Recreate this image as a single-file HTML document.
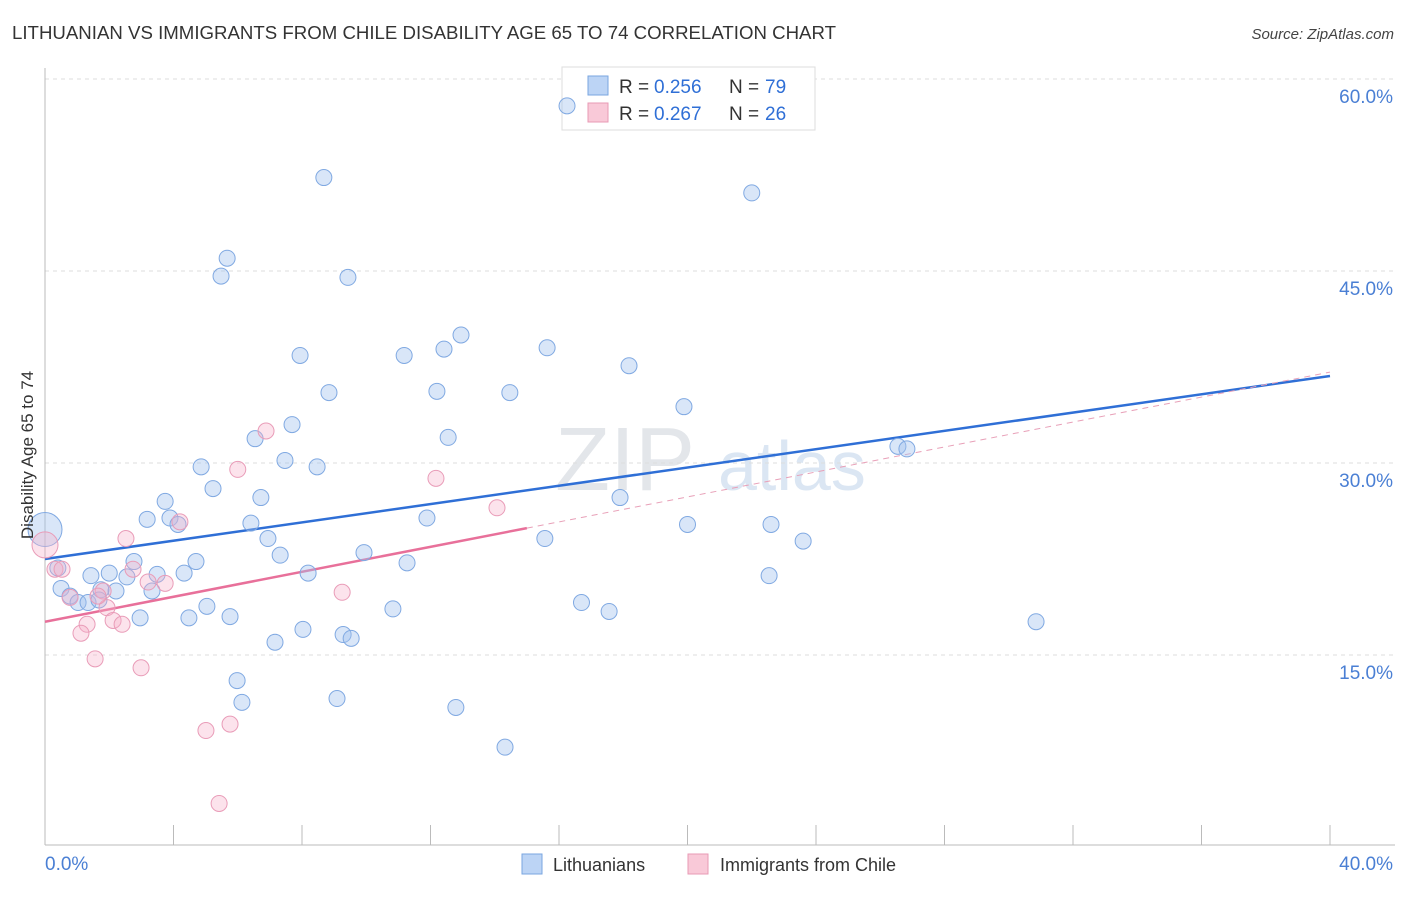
<!DOCTYPE html>
<html><head><meta charset="utf-8"><style>
body{margin:0;background:#fff;font-family:"Liberation Sans",sans-serif;}
svg text{font-family:"Liberation Sans",sans-serif;}
</style></head><body>
<svg id="chart" width="1406" height="892" xmlns="http://www.w3.org/2000/svg">
<text x="12" y="39" font-size="18" fill="#333" textLength="824" lengthAdjust="spacingAndGlyphs">LITHUANIAN VS IMMIGRANTS FROM CHILE DISABILITY AGE 65 TO 74 CORRELATION CHART</text>
<text x="1394" y="39" font-size="15" fill="#444" text-anchor="end" font-style="italic">Source: ZipAtlas.com</text>
<text x="555" y="490" font-size="90" fill="#e3e6ea" font-family="Liberation Serif">ZIP</text>
<text x="718" y="490" font-size="70" fill="#dbe6f3">atlas</text>
<g id="grid"></g>
<g id="axes"></g>
<g>
<rect x="562" y="67" width="253" height="63" fill="#fff" stroke="#ddd"/>
<rect x="588" y="76" width="20" height="19" fill="#bcd4f5" stroke="#7aa6e0"/>
<rect x="588" y="103" width="20" height="19" fill="#f9c9d8" stroke="#e89ab5"/>
<text x="619" y="93" font-size="19" fill="#333">R =</text>
<text x="654" y="93" font-size="19" fill="#2f6fd6">0.256</text>
<text x="729" y="93" font-size="19" fill="#333">N =</text>
<text x="765" y="93" font-size="19" fill="#2f6fd6">79</text>
<text x="619" y="120" font-size="19" fill="#333">R =</text>
<text x="654" y="120" font-size="19" fill="#2f6fd6">0.267</text>
<text x="729" y="120" font-size="19" fill="#333">N =</text>
<text x="765" y="120" font-size="19" fill="#2f6fd6">26</text>
</g>
<g id="lines"></g>
<g id="pts"></g>
<text transform="translate(33,455) rotate(-90)" font-size="17" fill="#333" text-anchor="middle">Disability Age 65 to 74</text>
<g>
<rect x="522" y="854" width="20" height="20" fill="#bcd4f5" stroke="#7aa6e0"/>
<text x="553" y="871" font-size="18" fill="#333">Lithuanians</text>
<rect x="688" y="854" width="20" height="20" fill="#f9c9d8" stroke="#e89ab5"/>
<text x="720" y="871" font-size="18" fill="#333">Immigrants from Chile</text>
</g>
</svg>
<script>
const yTicks=[15,30,45,60];
const yTickLabels=["15.0%","30.0%","45.0%","60.0%"];
const xTickCount=10;
const blueX=[16.25,8.68,22.0,5.67,5.48,9.43,12.95,15.63,12.42,7.94,11.18,18.18,12.2,8.84,14.47,19.89,7.69,6.54,12.55,26.55,26.83,7.47,4.86,8.47,5.23,17.9,6.72,3.74,3.18,3.89,11.89,6.41,4.14,20.0,22.6,6.94,15.56,23.6,7.32,9.93,2.77,4.70,11.27,0.4,1.43,2.0,2.55,3.49,4.33,8.19,22.54,0.5,2.21,1.74,3.33,0.78,1.03,1.34,1.68,16.7,5.04,10.83,17.56,2.96,4.48,5.76,30.85,8.03,9.28,9.53,7.16,5.98,6.13,9.09,12.79,14.32,0];
const blueY=[57.9,52.3,51.1,46.0,44.6,44.5,40.0,39.0,38.9,38.4,38.4,37.6,35.6,35.5,35.5,34.4,33.0,31.9,32.0,31.3,31.1,30.2,29.7,29.7,28.0,27.3,27.3,27.0,25.6,25.7,25.7,25.3,25.2,25.2,25.2,24.1,24.1,23.9,22.8,23.0,22.3,22.3,22.2,21.8,21.2,21.4,21.1,21.3,21.4,21.4,21.2,20.2,20.0,20.1,20.0,19.6,19.1,19.1,19.3,19.1,18.8,18.6,18.4,17.9,17.9,18.0,17.6,17.0,16.6,16.3,16.0,13.0,11.3,11.6,10.9,7.8,24.8];
const pinkX=[0,0.31,0.53,2.52,2.74,4.2,6.88,6.0,12.17,14.07,9.25,3.21,3.74,0.78,1.81,1.93,1.31,2.12,2.40,1.12,1.56,2.99,5.01,5.76,5.42,1.65];
const pinkY=[23.6,21.7,21.7,24.1,21.7,25.4,32.5,29.5,28.8,26.5,19.9,20.7,20.6,19.5,20.0,18.7,17.4,17.7,17.4,16.7,14.7,14.0,9.1,9.6,3.4,19.6];
const blueTrend=[22.5,36.8];
const pinkTrend=[17.6,37.1];
const pinkSolidEnd=15;
const X=v=>45+32.125*v, Y=v=>847-12.8*v;
const NS="http://www.w3.org/2000/svg";
function mk(p,t,a){const e=document.createElementNS(NS,t);for(const k in a)e.setAttribute(k,a[k]);p.appendChild(e);return e;}
const grid=document.getElementById('grid');
yTicks.forEach((t,i)=>{
 const l=mk(grid,'line',{x1:45,x2:1395,y1:Y(t),y2:Y(t),stroke:'#ddd','stroke-dasharray':'4,4'});
 
 
 const tx=mk(grid,'text',{x:1393,y:Y(t)+24,'font-size':19,fill:'#4a7fd4','text-anchor':'end'});
 tx.textContent=yTickLabels[i];
 
 
});
const axes=document.getElementById('axes');
mk(axes,'line',{x1:45,x2:45,y1:68,y2:845,stroke:'#bbb'});
mk(axes,'line',{x1:45,x2:1395,y1:845,y2:845,stroke:'#bbb'});
for(let k=1;k<=xTickCount;k++){const x=X(k*4);mk(axes,'line',{x1:x,x2:x,y1:825,y2:845,stroke:'#bbb'});}
const xl0=mk(axes,'text',{x:45,y:870,'font-size':19,fill:'#4a7fd4'});xl0.textContent='0.0%';


const xl1=mk(axes,'text',{x:1393,y:870,'font-size':19,fill:'#4a7fd4','text-anchor':'end'});xl1.textContent='40.0%';


const pts=document.getElementById('pts');
blueX.forEach((x,i)=>{const c=mk(pts,'circle',{cx:X(x),cy:Y(blueY[i]),r:i==blueX.length-1?17:8,fill:'rgba(160,192,238,0.4)',stroke:'#80a9e2','stroke-width':1});
 
 });
pinkX.forEach((x,i)=>{const c=mk(pts,'circle',{cx:X(x),cy:Y(pinkY[i]),r:i==0?13:8,fill:'rgba(246,175,200,0.35)',stroke:'#e99cb8','stroke-width':1});
 
 });
const lines=document.getElementById('lines');
const pAt=v=>pinkTrend[0]+(pinkTrend[1]-pinkTrend[0])*v/40;
const bl=mk(lines,'line',{x1:X(0),y1:Y(blueTrend[0]),x2:X(40),y2:Y(blueTrend[1]),stroke:'#2f6fd6','stroke-width':2.5});


const pl=mk(lines,'line',{x1:X(0),y1:Y(pAt(0)),x2:X(pinkSolidEnd),y2:Y(pAt(pinkSolidEnd)),stroke:'#e8709a','stroke-width':2.5});


const pd=mk(lines,'line',{x1:X(pinkSolidEnd),y1:Y(pAt(pinkSolidEnd)),x2:X(40),y2:Y(pAt(40)),stroke:'#e8a0b8','stroke-width':1,'stroke-dasharray':'6,5'});


</script>
</body></html>
